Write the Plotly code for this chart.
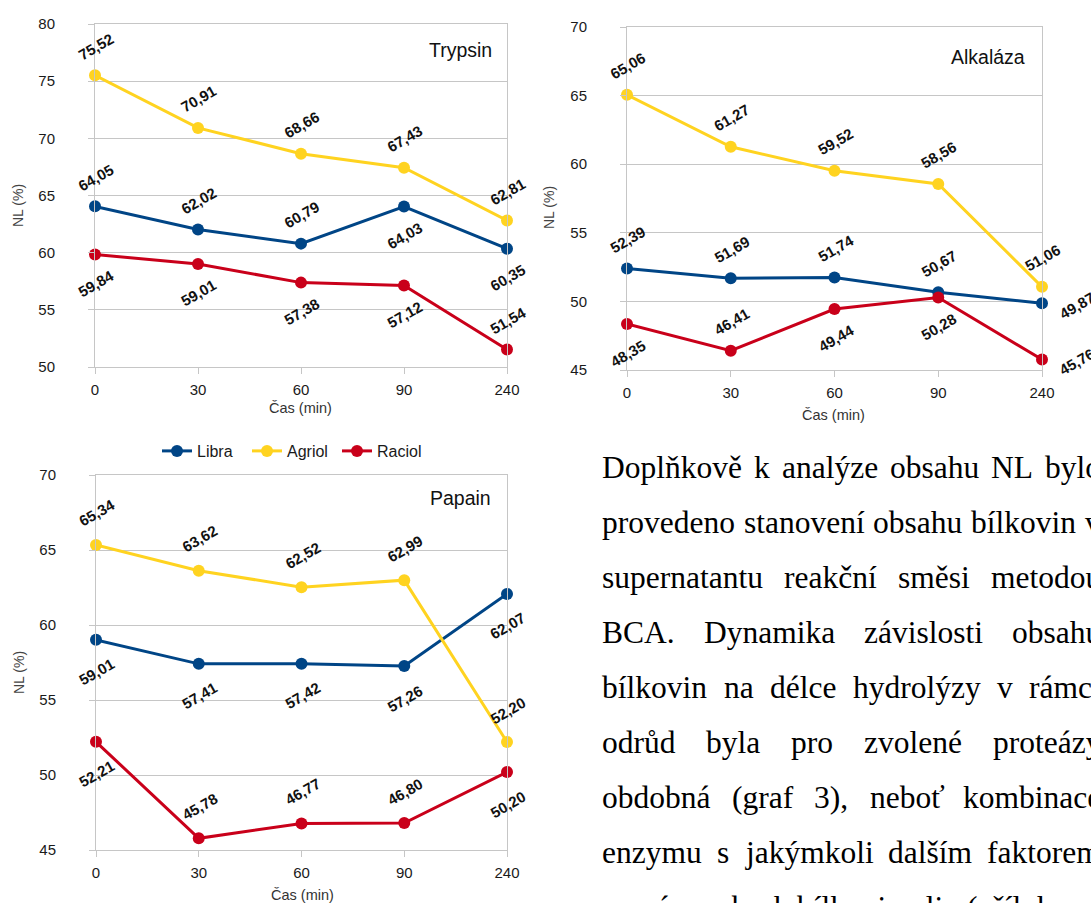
import unicodedata
import plotly.graph_objects as go

W, H = 1091, 903

# ---------------- data ----------------
time_labels = ["0", "30", "60", "90", "240"]
series_names = ["Libra", "Agriol", "Raciol"]

trypsin_libra = [64.05, 62.02, 60.79, 64.03, 60.35]
trypsin_agriol = [75.52, 70.91, 68.66, 67.43, 62.81]
trypsin_raciol = [59.84, 59.01, 57.38, 57.12, 51.54]

alkalaza_libra = [52.39, 51.69, 51.74, 50.67, 49.87]
alkalaza_agriol = [65.06, 61.27, 59.52, 58.56, 51.06]
alkalaza_raciol = [48.35, 46.41, 49.44, 50.28, 45.76]

papain_libra = [59.01, 57.41, 57.42, 57.26, 62.07]
papain_agriol = [65.34, 63.62, 62.52, 62.99, 52.20]
papain_raciol = [52.21, 45.78, 46.77, 46.80, 50.20]

panel_titles = ["Trypsin", "Alkaláza", "Papain"]
x_title = "Čas (min)"
y_title = "NL (%)"

paragraph_lines = [
    "Doplňkově k analýze obsahu NL bylo",
    "provedeno stanovení obsahu bílkovin v",
    "supernatantu reakční směsi metodou",
    "BCA. Dynamika závislosti obsahu",
    "bílkovin na délce hydrolýzy v rámci",
    "odrůd byla pro zvolené proteázy",
    "obdobná (graf 3), neboť kombinace",
    "enzymu s jakýmkoli dalším faktorem",
    "nemá na obsah bílkovin vliv (příloha",
]

# ---------------- styles / layout ----------------
colors = {"Libra": "#004586", "Agriol": "#FFD320", "Raciol": "#C9001A"}
grid_col = "#c6c6c6"
sans = "Liberation Sans, Arial, sans-serif"
serif = "Liberation Serif, Times New Roman, serif"

# label placement: a = above, b = below, r = right
panels = [
    dict(title=panel_titles[0], x0=95, x1=507, ytop=24, ybot=367, yr=[50, 80],
         series={"Libra": trypsin_libra, "Agriol": trypsin_agriol, "Raciol": trypsin_raciol},
         place={"Libra": "aaabb", "Agriol": "aaaaa", "Raciol": "bbbba"},
         vshift=29, title_xy=(494, 50), xt_xy=(300, 408), yt_xy=(18, 206), legend=False),
    dict(title=panel_titles[1], x0=627, x1=1042, ytop=27, ybot=370, yr=[45, 70],
         series={"Libra": alkalaza_libra, "Agriol": alkalaza_agriol, "Raciol": alkalaza_raciol},
         place={"Libra": "aaaar", "Agriol": "aaaaa", "Raciol": "babbr"},
         vshift=29, title_xy=(1027, 57), xt_xy=(833, 415), yt_xy=(549, 208), legend=False),
    dict(title=panel_titles[2], x0=96, x1=507, ytop=475, ybot=850, yr=[45, 70],
         series={"Libra": papain_libra, "Agriol": papain_agriol, "Raciol": papain_raciol},
         place={"Libra": "bbbbb", "Agriol": "aaaaa", "Raciol": "baaab"},
         vshift=32, title_xy=(493, 498), xt_xy=(302, 895), yt_xy=(19, 673), legend=True),
]

# paragraph geometry (justified text block)
TXT_L, TXT_R, TXT_SIZE = 600, 1099, 31.5
line_y0, line_dy = 467, 55

# Times / Liberation Serif advance widths (per 1000 em)
TIMES_W = {
    "a": 444, "b": 500, "c": 444, "d": 500, "e": 444, "f": 333, "g": 500, "h": 500,
    "i": 278, "j": 278, "k": 500, "l": 278, "m": 778, "n": 500, "o": 500, "p": 500,
    "q": 500, "r": 333, "s": 389, "t": 278, "u": 500, "v": 500, "w": 722, "x": 500,
    "y": 500, "z": 444, "A": 722, "B": 667, "C": 667, "D": 722, "L": 611, "N": 722,
    ".": 250, ",": 250, "(": 333, ")": 333, "3": 500, "ť": 326,
}


def word_width(w):
    tot = 0
    for ch in w:
        if ch in TIMES_W:
            tot += TIMES_W[ch]
        else:
            base = unicodedata.normalize("NFD", ch)[0]
            tot += TIMES_W.get(base, 500)
    return tot / 1000 * TXT_SIZE


def px(x):
    return x / W


def py(y):
    return 1 - y / H


def fmt(v):
    return f"{v:.2f}".replace(".", ",")


fig = go.Figure()
annotations = []
layout = {}

for i, p in enumerate(panels, start=1):
    xa = "x" if i == 1 else f"x{i}"
    ya = "y" if i == 1 else f"y{i}"
    for name in series_names:
        fig.add_trace(go.Scatter(
            x=time_labels, y=p["series"][name], name=name, mode="lines+markers",
            xaxis=xa, yaxis=ya, cliponaxis=False,
            line=dict(color=colors[name], width=3),
            marker=dict(color=colors[name], size=12),
            showlegend=p["legend"], hoverinfo="skip",
        ))
        for j, (v, c) in enumerate(zip(p["series"][name], p["place"][name])):
            if c == "a":
                xs, ys = 1, p["vshift"]
            elif c == "b":
                xs, ys = 1, -p["vshift"]
            else:
                xs, ys = 35, -2
            annotations.append(dict(
                x=j, y=v, xref=xa, yref=ya, text="<b>" + fmt(v) + "</b>", showarrow=False,
                xshift=xs, yshift=ys, textangle=-30,
                font=dict(family=sans, size=15, color="#111111"),
            ))
    key = "" if i == 1 else str(i)
    layout["xaxis" + key] = dict(
        type="category", domain=[px(p["x0"]), px(p["x1"])], range=[0, 4],
        anchor=ya, showgrid=False, showline=True, linecolor=grid_col, linewidth=1,
        mirror=True, ticks="outside", ticklen=6, tickcolor=grid_col,
        tickfont=dict(family=sans, size=15, color="#1a1a1a"), ticklabelstandoff=3,
        zeroline=False, fixedrange=True, automargin=False,
    )
    layout["yaxis" + key] = dict(
        domain=[py(p["ybot"]), py(p["ytop"])], range=p["yr"], dtick=5,
        anchor=xa, showgrid=True, gridcolor=grid_col, gridwidth=1,
        showline=True, linecolor=grid_col, linewidth=1, mirror=True,
        ticks="outside", ticklen=6, tickcolor=grid_col,
        tickfont=dict(family=sans, size=15, color="#1a1a1a"), ticklabelstandoff=30,
        zeroline=False, fixedrange=True, automargin=False,
    )
    tx, ty = p["title_xy"]
    annotations.append(dict(x=px(tx), y=py(ty), xref="paper", yref="paper", text=p["title"],
                            showarrow=False, xanchor="right", yanchor="middle",
                            font=dict(family=sans, size=19.5, color="#111111")))
    ax_, ay_ = p["xt_xy"]
    annotations.append(dict(x=px(ax_), y=py(ay_), xref="paper", yref="paper", text=x_title,
                            showarrow=False, xanchor="center", yanchor="middle",
                            font=dict(family=sans, size=14.5, color="#333333")))
    bx, by = p["yt_xy"]
    annotations.append(dict(x=px(bx), y=py(by), xref="paper", yref="paper", text=y_title,
                            showarrow=False, xanchor="center", yanchor="middle", textangle=-90,
                            font=dict(family=sans, size=14, color="#444444")))

# justified paragraph: every word placed so that each line fills [TXT_L, TXT_R]
for li, line in enumerate(paragraph_lines):
    words = line.split(" ")
    widths = [word_width(w) for w in words]
    if li < len(paragraph_lines) - 1 and len(words) > 1:
        gap = (TXT_R - TXT_L - sum(widths)) / (len(words) - 1)
    else:
        gap = 0.25 * TXT_SIZE
    yc = line_y0 + li * line_dy
    x = TXT_L
    for w, wd in zip(words, widths):
        annotations.append(dict(x=px(x), y=py(yc), xref="paper", yref="paper", text=w,
                                showarrow=False, xanchor="left", yanchor="middle",
                                font=dict(family=serif, size=TXT_SIZE, color="#000000")))
        x += wd + gap

fig.update_layout(
    template="none",
    width=W, height=H, margin=dict(l=0, r=0, t=0, b=0, autoexpand=False),
    paper_bgcolor="white", plot_bgcolor="white",
    showlegend=True,
    legend=dict(orientation="h", x=px(157), y=py(451), xanchor="left", yanchor="middle",
                font=dict(family=sans, size=16, color="#1a1a1a"),
                entrywidth=45, entrywidthmode="pixels", bgcolor="rgba(0,0,0,0)"),
    annotations=annotations,
    **layout,
)

fig.write_html("out.html", config={"displayModeBar": False},
               post_script="document.body.style.margin='0px';")
